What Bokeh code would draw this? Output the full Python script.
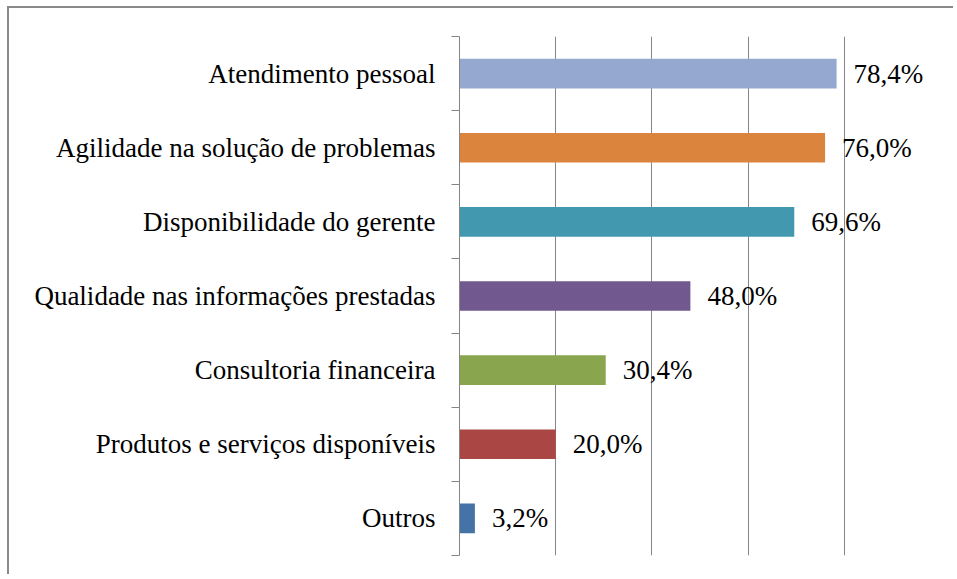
from bokeh.plotting import figure
from bokeh.models import (Range1d, LinearAxis, FixedTicker, Grid, ColumnDataSource)
from bokeh.core.properties import value
from bokeh.embed import file_html
from bokeh.resources import INLINE

# Data (bottom to top)
categories = [
    "Outros",
    "Produtos e serviços disponíveis",
    "Consultoria financeira",
    "Qualidade nas informações prestadas",
    "Disponibilidade do gerente",
    "Agilidade na solução de problemas",
    "Atendimento pessoal",
]
values = [3.2, 20.0, 30.4, 48.0, 69.6, 76.0, 78.4]
colors = ["#4572A7", "#AA4643", "#89A54E", "#71588F", "#4198AF", "#DB843D", "#95A9D0"]
x_ticks = [0, 20, 40, 60, 80, 100]

n = len(categories)
centers = [i + 0.5 for i in range(n)]
bounds = list(range(n + 1))
labels = [f"{v:.1f}%".replace(".", ",") for v in values]
src = ColumnDataSource(dict(y=centers, val=values, col=colors, lab=labels))

FONT = "serif"
GRID = "#868686"

p = figure(width=946, height=568, output_backend="svg", toolbar_location=None,
           y_range=Range1d(0, n), x_range=Range1d(0, 100),
           x_axis_location=None, y_axis_location=None,
           min_border_left=450, min_border_right=15,
           min_border_top=28, min_border_bottom=21,
           outline_line_color=None,
           styles={"margin-left": "7px", "margin-top": "6px",
                   "border-left": "2px solid #8a8a8a", "border-top": "2px solid #8a8a8a"})
p.grid.visible = False

p.add_layout(Grid(dimension=0, ticker=FixedTicker(ticks=x_ticks),
                  grid_line_color=GRID, grid_line_width=1))

# category axis: names at centers, tick marks (minor) at boundaries
y_axis = LinearAxis(ticker=FixedTicker(ticks=centers, minor_ticks=bounds),
                    major_label_overrides={c: name for c, name in zip(centers, categories)},
                    axis_line_color=GRID,
                    major_tick_line_color=None, major_tick_in=0, major_tick_out=0,
                    minor_tick_line_color=GRID, minor_tick_in=0, minor_tick_out=8,
                    major_label_standoff=16,
                    major_label_text_font=FONT,
                    major_label_text_font_size="27px",
                    major_label_text_color="#000000")
p.add_layout(y_axis, "left")

p.hbar(y="y", right="val", left=0, height=0.4, fill_color="col",
       line_color=None, source=src)

p.text(x="val", y="y", text="lab", x_offset=17, text_baseline="middle",
       text_align="left", text_font=value(FONT), text_font_size="27px",
       text_color="#000000", source=src)

open("out.html", "w").write(file_html(p, INLINE))
